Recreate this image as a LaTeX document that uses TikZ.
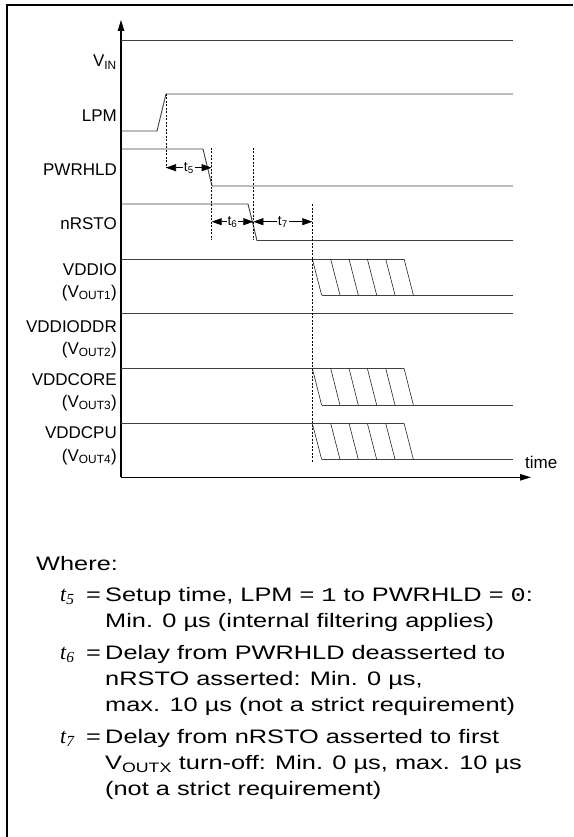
\documentclass[tikz,border=0pt]{standalone}
\usepackage{fontspec}
\setmainfont{Liberation Sans}
\newfontfamily\notefont[FakeStretch=1.3]{Liberation Sans}
\newfontfamily\notemono[FakeStretch=1.3]{Liberation Mono}
\newfontfamily\noteserif{Liberation Serif}
\usetikzlibrary{arrows.meta}

\begin{document}
\begin{tikzpicture}[
  x=1pt, y=-1pt,
  signal/.style={draw=black!75, line width=0.9pt},
  hatch/.style={draw=black!85, line width=0.6pt},
  axis/.style={draw=black, line width=1.1pt, -{Triangle[length=11pt,width=6.5pt]}},
  guide/.style={draw=black, line width=0.6pt, dash pattern=on 2pt off 1.5pt},
  span/.style={draw=black, line width=0.6pt, {Triangle[length=10pt,width=7pt]}-{Triangle[length=10pt,width=7pt]}},
  lbl/.style={anchor=east, inner sep=0pt, font=\fontsize{17}{18}\selectfont},
  tlbl/.style={fill=white, inner sep=1pt, font=\fontsize{14}{15}\selectfont},
  note/.style={anchor=base west, inner sep=0pt, font=\notefont\fontsize{19.5}{26}\selectfont},
  tdef/.style={anchor=base west, inner sep=0pt, font=\noteserif\itshape\fontsize{22}{26}\selectfont}
]
\useasboundingbox (0,0) rectangle (573,837);
% frame
\draw[line width=2pt] (6.5,837) -- (6.5,5.5) -- (573,5.5);

% axes
\coordinate (org) at (121,477.3);
\coordinate (ytop) at (121,20);
\coordinate (xend) at (531,477.3);
\draw[axis] (org) -- (ytop);
\draw[axis] (org) -- (xend);
\node[anchor=west, inner sep=0pt, font=\fontsize{17}{18}\selectfont] (time) at (525,462) {time};

% signal names
\node[lbl] (vin) at (117,62) {V\textsubscript{IN}};
\node[lbl] (lpm) at (117,116) {LPM};
\node[lbl] (pwrhld) at (117,170) {PWRHLD};
\node[lbl] (nrsto) at (117,224) {nRSTO};
\node[lbl] (vddio) at (117,270) {VDDIO};
\node[lbl] (vout1) at (117,293) {(V\textsubscript{OUT1})};
\node[lbl] (vddioddr) at (117,327) {VDDIODDR};
\node[lbl] (vout2) at (117,350) {(V\textsubscript{OUT2})};
\node[lbl] (vddcore) at (117,380) {VDDCORE};
\node[lbl] (vout3) at (117,403) {(V\textsubscript{OUT3})};
\node[lbl] (vddcpu) at (117,433) {VDDCPU};
\node[lbl] (vout4) at (117,457) {(V\textsubscript{OUT4})};

% waveforms
\draw[signal] (121,40) -- (513,40);
\draw[signal] (121,131) -- (157,131) -- (166,94) -- (513,94);
\draw[signal] (121,149) -- (203,149) -- (212,186) -- (513,186);
\draw[signal] (121,204) -- (248,204) -- (257,240.5) -- (513,240.5);
\draw[signal] (121,313) -- (513,313);
\foreach \hi/\lo in {259/295, 368.3/405, 423.3/459.3} {
  \draw[signal] (121,\hi) -- (404,\hi);
  \draw[signal] (321.7,\lo) -- (513,\lo);
  \foreach \k in {0,...,5}
    \draw[hatch] (312.3+18.35*\k,\hi) -- (321.6+18.35*\k,\lo);
}

% timing marks
\draw[guide] (166,94) -- (166,168);
\draw[guide] (211.7,148) -- (211.7,240);
\draw[guide] (253.3,148) -- (253.3,240);
\draw[guide] (312.3,204) -- (312.3,462);
\coordinate (t5a) at (166,167.7);
\coordinate (t5b) at (211.7,167.7);
\coordinate (t6a) at (211.7,221.7);
\coordinate (t6b) at (253.3,221.7);
\coordinate (t7b) at (312.3,221.7);
\draw[span] (t5a) -- node[tlbl] (t5) {t\textsubscript{5}} (t5b);
\draw[span] (t6a) -- node[tlbl] (t6) {t\textsubscript{6}} (t6b);
\draw[span] (t6b) -- node[tlbl] (t7) {t\textsubscript{7}} (t7b);

% legend
\node[note] (where) at (36,570) {Where:};
\node[tdef] (d5) at (60,601) {t\textsubscript{5}};
\node[note] (e5) at (86,601) {=};
\node[note] (l51) at (105,601) {Setup time, LPM = {\notemono 1} to PWRHLD = {\notemono 0}:};
\node[note] (l52) at (105,627) {Min. 0 µs (internal filtering applies)};
\node[tdef] (d6) at (60,659) {t\textsubscript{6}};
\node[note] (e6) at (86,659) {=};
\node[note] (l61) at (105,659) {Delay from PWRHLD deasserted to};
\node[note] (l62) at (105,685) {nRSTO asserted: Min. 0 µs,};
\node[note] (l63) at (105,711) {max. 10 µs (not a strict requirement)};
\node[tdef] (d7) at (60,743) {t\textsubscript{7}};
\node[note] (e7) at (86,743) {=};
\node[note] (l71) at (105,743) {Delay from nRSTO asserted to first};
\node[note] (l72) at (105,769) {V\textsubscript{OUTX} turn-off: Min. 0 µs, max. 10 µs};
\node[note] (l73) at (105,795) {(not a strict requirement)};
\end{tikzpicture}
\end{document}
